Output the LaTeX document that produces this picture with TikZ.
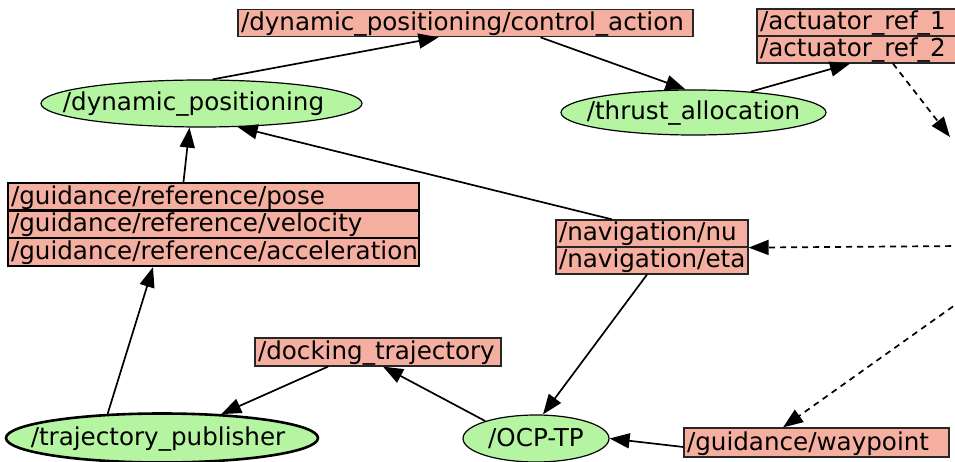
\documentclass[tikz,border=0pt]{standalone}
\usepackage{fontspec}
\setmainfont{DejaVu Sans}
\usetikzlibrary{shapes.geometric,arrows.meta,calc}
\definecolor{topicfill}{RGB}{245,175,160}
\definecolor{nodefill}{RGB}{181,245,161}
\begin{document}
\begin{tikzpicture}[x=1pt,y=-1pt,
  lbl/.style={font=\fontsize{24.6}{28}\selectfont, text height=20pt, text depth=5pt},
  topic/.style={lbl, rectangle, draw=black!85, line width=1.2pt, fill=topicfill,
    inner xsep=3pt, inner ysep=0pt, minimum height=27.5pt, align=left},
  proc/.style={ellipse, draw=black, line width=1.2pt, fill=nodefill, inner sep=0pt},
  procname/.style={label={[lbl, inner sep=0pt]center:#1}},
  thick border/.style={line width=2.6pt, draw=black},
  link/.style={line width=1.7pt, -{Triangle[length=20pt,width=15pt]}},
  remote/.style={link, dash pattern=on 6pt off 5pt}]
\useasboundingbox (0,0) rectangle (955,462);
\clip (0,0) rectangle (955,462);

% topics
\node[topic, text width=449pt] (ca) at (465.5,23) {/dynamic\_positioning/control\_action};
\node[topic, text width=194pt, minimum height=27pt] (act1) at (857,22.5) {/actuator\_ref\_1};
\node[topic, text width=194pt, minimum height=27pt] (act2) at (857,49.5) {/actuator\_ref\_2};
\node[topic, thick border, text width=405pt, minimum height=27.7pt] (gr1) at (213.5,197) {/guidance/reference/pose};
\node[topic, thick border, text width=405pt, minimum height=27.7pt] (gr2) at (213.5,224.5) {/guidance/reference/velocity};
\node[topic, thick border, text width=405pt, minimum height=27.7pt] (gr3) at (213.5,252) {/guidance/reference/acceleration};
\node[topic, text width=186pt, minimum height=27pt] (nav1) at (652,233.5) {/navigation/nu};
\node[topic, text width=186pt, minimum height=27pt] (nav2) at (652,260.5) {/navigation/eta};
\node[topic, text width=240pt, minimum height=28pt] (dt) at (378,352) {/docking\_trajectory};
\node[topic, text width=259pt, minimum height=29pt] (wp) at (816.5,442.5) {/guidance/waypoint};

% processes (the ellipse is sized by hand, the name sits on top of it)
\node[proc, minimum width=321pt, minimum height=47pt,
  label={[lbl, inner sep=0pt, xshift=-8pt]center:/dynamic\_positioning}] (dp) at (201.5,103.5) {};
\node[proc, minimum width=265pt, minimum height=45pt, procname=/thrust\_allocation] (ta) at (693.5,112.5) {};
\node[proc, thick border, minimum width=312pt, minimum height=49pt,
  label={[lbl, inner sep=0pt, xshift=-4pt]center:/trajectory\_publisher}] (tp) at (162,438) {};
\node[proc, minimum width=146pt, minimum height=47pt, procname=/OCP-TP] (ocp) at (536,438.5) {};

% loose ends leading to processes outside the frame
\coordinate (eastA) at (950,137);
\coordinate (eastB) at (962,246);
\coordinate (eastC) at (962,300);

% connections
\draw[link] ([xshift=11pt]dp.north) -- ([xshift=-27pt]ca.south);
\draw[link] ([xshift=75pt]ca.south) -- ([xshift=-8pt]ta.north);
\draw[link] (ta.20) -- ([xshift=-7pt]act2.south);
\draw[remote] ([xshift=36pt]act2.south) -- (eastA);
\draw[link] ([xshift=-30pt]gr1.north) -- ([xshift=-12pt]dp.south);
\draw[link] ([xshift=-40pt]nav1.north) -- (dp.-33.5);
\draw[remote] (eastB) -- (nav1.south east);
\draw[link] ([xshift=-5pt]nav2.south) -- ([xshift=7pt]ocp.north);
\draw[remote] (eastC) -- ([xshift=-33.5pt]wp.north);
\draw[link] ([yshift=-4.5pt]wp.west) -- (ocp.east);
\draw[link] (ocp.161) -- ([xshift=5pt]dt.south);
\draw[link] ([xshift=-50pt]dt.south) -- (tp.22);
\draw[link] (tp.156.5) -- ([xshift=-60.5pt]gr3.south);
\end{tikzpicture}
\end{document}
